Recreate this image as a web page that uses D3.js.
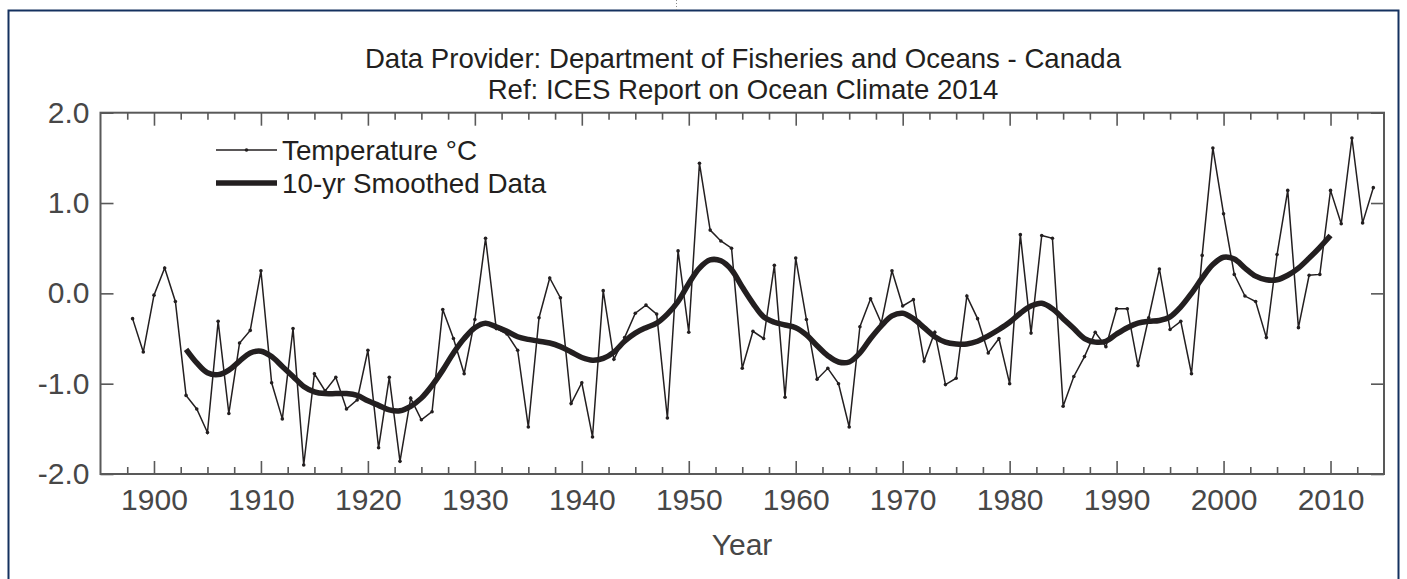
<!DOCTYPE html>
<html>
<head>
<meta charset="utf-8">
<script src="https://cdn.jsdelivr.net/npm/d3@7"></script>
<style>
  html, body { margin: 0; padding: 0; background: #fff; }
  svg { display: block; font-family: "Liberation Sans", Arial, Helvetica, sans-serif; }
</style>
</head>
<body>
<svg id="chart" width="1407" height="579"></svg>
<script>
// Annual temperature anomaly (°C), 1898–2014
const tempYears = d3.range(1898, 2015);
const tempValues = [
  -0.28, -0.65, -0.02, 0.28, -0.09, -1.13, -1.28, -1.54, -0.31, -1.33,
  -0.55, -0.41, 0.25, -0.99, -1.39, -0.39, -1.90, -0.89, -1.08, -0.93,
  -1.28, -1.18, -0.63, -1.71, -0.93, -1.86, -1.16, -1.40, -1.31, -0.18,
  -0.50, -0.89, -0.29, 0.61, -0.39, -0.45, -0.63, -1.48, -0.27, 0.17,
  -0.05, -1.22, -0.99, -1.59, 0.03, -0.73, -0.49, -0.22, -0.13, -0.23,
  -1.38, 0.47, -0.43, 1.44, 0.70, 0.58, 0.50, -0.83, -0.42, -0.50,
  0.31, -1.15, 0.39, -0.29, -0.95, -0.83, -1.00, -1.48, -0.37, -0.06,
  -0.33, 0.25, -0.14, -0.07, -0.75, -0.43, -1.01, -0.94, -0.03, -0.28,
  -0.66, -0.50, -1.00, 0.65, -0.44, 0.64, 0.61, -1.25, -0.92, -0.70,
  -0.43, -0.59, -0.17, -0.17, -0.80, -0.27, 0.27, -0.40, -0.31, -0.89,
  0.42, 1.61, 0.88, 0.21, -0.03, -0.09, -0.49, 0.43, 1.14, -0.38,
  0.20, 0.21, 1.14, 0.77, 1.72, 0.78, 1.17
];

// 10-year smoothed series, 1903–2010
const smoothYears = d3.range(1903, 2011);
const smoothValues = [
  -0.62, -0.77, -0.88, -0.90, -0.85, -0.75, -0.66, -0.64, -0.70, -0.81,
  -0.92, -1.03, -1.09, -1.11, -1.11, -1.11, -1.13, -1.19, -1.24, -1.29,
  -1.30, -1.25, -1.16, -1.02, -0.85, -0.66, -0.50, -0.38, -0.33, -0.37,
  -0.42, -0.48, -0.51, -0.53, -0.55, -0.59, -0.65, -0.71, -0.74, -0.72,
  -0.65, -0.53, -0.44, -0.38, -0.33, -0.23, -0.09, 0.11, 0.28, 0.37,
  0.36, 0.26, 0.07, -0.11, -0.26, -0.32, -0.35, -0.38, -0.46, -0.58,
  -0.69, -0.76, -0.76, -0.66, -0.50, -0.36, -0.25, -0.22, -0.28, -0.38,
  -0.48, -0.54, -0.56, -0.56, -0.53, -0.47, -0.40, -0.32, -0.22, -0.14,
  -0.11, -0.17, -0.28, -0.39, -0.50, -0.54, -0.53, -0.45, -0.38, -0.33,
  -0.31, -0.30, -0.26, -0.15, 0.00, 0.17, 0.32, 0.40, 0.38, 0.28,
  0.19, 0.15, 0.15, 0.20, 0.28, 0.39, 0.51, 0.64
];

const xMajorTicks = d3.range(1900, 2011, 10);
const xMinorTicks = d3.range(1897.5, 2015, 2.5).filter(v => v % 10 !== 0);
const yTicks = [-2, -1, 0, 1, 2];
const yTickLabels = ["-2.0", "-1.0", "0.0", "1.0", "2.0"];

const titleLines = [
  "Data Provider: Department of Fisheries and Oceans - Canada",
  "Ref: ICES Report on Ocean Climate 2014"
];
const legendLabels = ["Temperature °C", "10-yr Smoothed Data"];
const xAxisLabel = "Year";

const svg = d3.select("#chart");
const W = 1407, H = 579;
const plot = { left: 100.5, right: 1384, top: 112.7, bottom: 474 };
const ink = "#231f20";
const axisGrey = "#595959";
const labelGrey = "#474747";

svg.append("rect").attr("width", W).attr("height", H).attr("fill", "#fff");

// outer frame
svg.append("rect")
  .attr("x", 8.5).attr("y", 10.5)
  .attr("width", 1390).attr("height", 620)
  .attr("fill", "none").attr("stroke", "#14315f").attr("stroke-width", 2);
svg.append("line")
  .attr("x1", 676.5).attr("x2", 676.5).attr("y1", 0).attr("y2", 11)
  .attr("stroke", "#888").attr("stroke-width", 1).attr("stroke-dasharray", "1,2");

const x = d3.scaleLinear().domain([1895, 2015]).range([plot.left, plot.right]);
const y = d3.scaleLinear().domain([-2, 2]).range([plot.bottom, plot.top]);

// titles
svg.append("g").selectAll("text").data(titleLines).join("text")
  .attr("x", 743).attr("y", (d, i) => 68 + i * 31)
  .attr("text-anchor", "middle")
  .attr("font-size", 27.6).attr("fill", ink)
  .text(d => d);

// axes
function styleAxis(g) {
  g.select(".domain").remove();
  g.selectAll(".tick line").attr("stroke", axisGrey).attr("stroke-width", 1.6);
  g.selectAll(".tick text").attr("fill", labelGrey).attr("font-family", "Liberation Sans, Arial, sans-serif");
}

svg.append("g").attr("transform", `translate(0,${plot.bottom})`)
  .call(d3.axisBottom(x).tickValues(xMajorTicks).tickSize(-13).tickPadding(14).tickFormat(d3.format("d")))
  .call(styleAxis)
  .call(g => g.selectAll(".tick text").attr("font-size", 30).attr("dy", "0.72em"));
svg.append("g").attr("transform", `translate(0,${plot.bottom})`)
  .call(d3.axisBottom(x).tickValues(xMinorTicks).tickSize(-7).tickFormat(""))
  .call(styleAxis);
svg.append("g").attr("transform", `translate(0,${plot.top})`)
  .call(d3.axisTop(x).tickValues(xMajorTicks).tickSize(-13).tickFormat(""))
  .call(styleAxis);
svg.append("g").attr("transform", `translate(0,${plot.top})`)
  .call(d3.axisTop(x).tickValues(xMinorTicks).tickSize(-7).tickFormat(""))
  .call(styleAxis);
svg.append("g").attr("transform", `translate(${plot.left},0)`)
  .call(d3.axisLeft(y).tickValues(yTicks).tickSize(-13).tickPadding(11)
    .tickFormat((d, i) => yTickLabels[i]))
  .call(styleAxis)
  .call(g => g.selectAll(".tick text").attr("font-size", 30));
svg.append("g").attr("transform", `translate(${plot.right},0)`)
  .call(d3.axisRight(y).tickValues(yTicks).tickSize(-13).tickFormat(""))
  .call(styleAxis);

// plot frame
svg.append("rect")
  .attr("x", plot.left).attr("y", plot.top)
  .attr("width", plot.right - plot.left).attr("height", plot.bottom - plot.top)
  .attr("fill", "none").attr("stroke", axisGrey).attr("stroke-width", 2);

svg.append("text")
  .attr("x", 742).attr("y", 555)
  .attr("text-anchor", "middle").attr("font-size", 30).attr("fill", labelGrey)
  .text(xAxisLabel);

// series
const tempData = tempYears.map((yr, i) => ({ yr, v: tempValues[i] }));
const smoothData = smoothYears.map((yr, i) => ({ yr, v: smoothValues[i] }));

svg.append("path")
  .datum(tempData)
  .attr("fill", "none").attr("stroke", ink).attr("stroke-width", 1.5)
  .attr("stroke-linejoin", "miter")
  .attr("d", d3.line().x(d => x(d.yr)).y(d => y(d.v)));

svg.append("g").selectAll("circle").data(tempData).join("circle")
  .attr("cx", d => x(d.yr)).attr("cy", d => y(d.v))
  .attr("r", 1.8).attr("fill", ink);

svg.append("path")
  .datum(smoothData)
  .attr("fill", "none").attr("stroke", ink).attr("stroke-width", 5.5)
  .attr("stroke-linejoin", "round")
  .attr("d", d3.line().curve(d3.curveCatmullRom).x(d => x(d.yr)).y(d => y(d.v)));

// legend
const legend = svg.append("g");
const legendRows = [
  { label: legendLabels[0], width: 1.5, dot: true, y: 150 },
  { label: legendLabels[1], width: 5.5, dot: false, y: 183 }
];
legendRows.forEach(r => {
  legend.append("line")
    .attr("x1", 216).attr("x2", 277).attr("y1", r.y).attr("y2", r.y)
    .attr("stroke", ink).attr("stroke-width", r.width);
  if (r.dot) {
    legend.append("circle").attr("cx", 246.5).attr("cy", r.y).attr("r", 1.8).attr("fill", ink);
  }
  legend.append("text")
    .attr("x", 282).attr("y", r.y + 10)
    .attr("font-size", 27.8).attr("fill", ink)
    .text(r.label);
});
</script>
</body>
</html>
